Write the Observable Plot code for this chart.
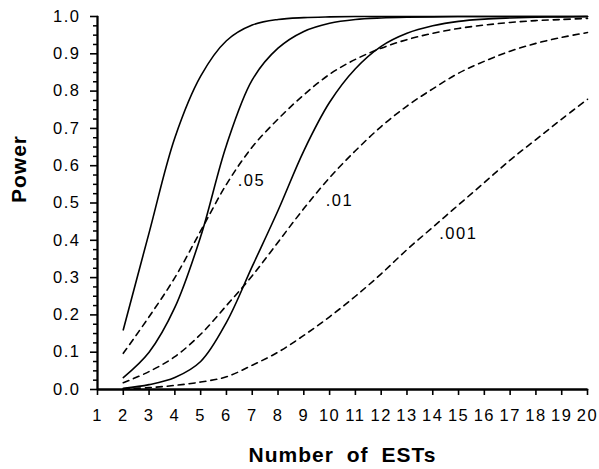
<!DOCTYPE html>
<html>
<head>
<meta charset="utf-8">
<script src="https://cdn.jsdelivr.net/npm/d3@7"></script>
<script src="https://cdn.jsdelivr.net/npm/@observablehq/plot@0.6"></script>
<style>
  html, body { margin: 0; padding: 0; background: #fff; }
  #chart svg { display: block; }
</style>
</head>
<body>
<div id="chart"></div>
<script>
// Number of ESTs (x values shared by all curves)
const nEST = [2, 3, 4, 5, 6, 7, 8, 9, 10, 11, 12, 13, 14, 15, 16, 17, 18, 19, 20];

// Power curves, solid family, at significance levels .05 / .01 / .001
const solidP05  = [0.16, 0.42, 0.675, 0.84, 0.935, 0.977, 0.992, 0.997, 0.999, 1.0, 1.0, 1.0, 1.0, 1.0, 1.0, 1.0, 1.0, 1.0, 1.0];
const solidP01  = [0.032, 0.10, 0.22, 0.41, 0.655, 0.83, 0.915, 0.96, 0.982, 0.992, 0.996, 0.998, 0.999, 1.0, 1.0, 1.0, 1.0, 1.0, 1.0];
const solidP001 = [0.003, 0.013, 0.032, 0.075, 0.18, 0.33, 0.48, 0.64, 0.77, 0.86, 0.92, 0.955, 0.975, 0.987, 0.993, 0.996, 0.998, 0.999, 1.0];

// Power curves, dashed family, at the same significance levels
const dashedP05  = [0.097, 0.195, 0.30, 0.425, 0.55, 0.65, 0.725, 0.79, 0.845, 0.885, 0.915, 0.938, 0.955, 0.968, 0.977, 0.984, 0.989, 0.992, 0.995];
const dashedP01  = [0.018, 0.048, 0.088, 0.148, 0.225, 0.305, 0.395, 0.485, 0.568, 0.64, 0.705, 0.76, 0.806, 0.848, 0.88, 0.907, 0.928, 0.944, 0.957];
const dashedP001 = [0.002, 0.005, 0.011, 0.02, 0.034, 0.065, 0.10, 0.145, 0.195, 0.25, 0.31, 0.375, 0.435, 0.495, 0.555, 0.615, 0.67, 0.725, 0.778];

// Axis ticks
const xTicks = [1, 2, 3, 4, 5, 6, 7, 8, 9, 10, 11, 12, 13, 14, 15, 16, 17, 18, 19, 20];
const yTicks = [0, 0.1, 0.2, 0.3, 0.4, 0.5, 0.6, 0.7, 0.8, 0.9, 1.0];
const yMinorTicks = [0.025, 0.05, 0.075, 0.125, 0.15, 0.175, 0.225, 0.25, 0.275, 0.325, 0.35, 0.375,
                     0.425, 0.45, 0.475, 0.525, 0.55, 0.575, 0.625, 0.65, 0.675, 0.725, 0.75, 0.775,
                     0.825, 0.85, 0.875, 0.925, 0.95, 0.975];

// Significance-level annotations beside the dashed curves
const levelLabels = [
  {label: ".05",  n: 6.97,  power: 0.56},
  {label: ".01",  n: 10.38, power: 0.505},
  {label: ".001", n: 14.99, power: 0.418}
];

const series = [
  {key: "solid .05",   dashed: false, values: solidP05},
  {key: "solid .01",   dashed: false, values: solidP01},
  {key: "solid .001",  dashed: false, values: solidP001},
  {key: "dashed .05",  dashed: true,  values: dashedP05},
  {key: "dashed .01",  dashed: true,  values: dashedP01},
  {key: "dashed .001", dashed: true,  values: dashedP001}
];
const rows = series.flatMap(s => s.values.map((p, i) => ({n: nEST[i], power: p, key: s.key, dashed: s.dashed})));

// Axis lines as polylines along the tick extents
const xFirst = xTicks[0], xLast = xTicks[xTicks.length - 1];
const yFirst = yTicks[0], yLast = yTicks[yTicks.length - 1];
const axisLines = [
  {n: xFirst, power: yFirst, key: "y-axis"}, {n: xFirst, power: yLast, key: "y-axis"},
  {n: xFirst, power: yFirst, key: "x-axis"}, {n: xLast, power: yFirst, key: "x-axis"}
];

const font = "'Liberation Sans', Arial, Helvetica, sans-serif";
const ink = "#000";

const chart = Plot.plot({
  width: 599,
  height: 469,
  marginLeft: 97,
  marginRight: 12,
  marginTop: 16,
  marginBottom: 80,
  style: {fontFamily: font, fontSize: "16.5px", color: ink, background: "#fff"},
  x: {type: "linear", domain: [1, 20]},
  y: {type: "linear", domain: [0, 1]},
  marks: [
    Plot.line(rows.filter(d => !d.dashed), {x: "n", y: "power", z: "key", curve: "catmull-rom", stroke: ink, strokeWidth: 1.6}),
    Plot.line(rows.filter(d => d.dashed), {x: "n", y: "power", z: "key", curve: "catmull-rom", stroke: ink, strokeWidth: 1.6, strokeDasharray: "6,5"}),
    Plot.text(levelLabels, {x: "n", y: "power", text: "label", fontSize: 16.5, textAnchor: "middle", fill: ink}),
    Plot.text(["Number of ESTs"], {frameAnchor: "bottom", dy: 66, lineAnchor: "middle", fontSize: 21, fontWeight: "bold", fill: ink}),
    Plot.text(["Power"], {frameAnchor: "left", dx: -78, rotate: -90, lineAnchor: "middle", fontSize: 21, fontWeight: "bold", fill: ink}),
    Plot.axisY({ticks: yMinorTicks, tickSize: 4, tickFormat: () => "", label: null, stroke: ink, strokeWidth: 1.5}),
    Plot.axisY({ticks: yTicks, tickSize: 7, tickPadding: 10, tickFormat: d => d.toFixed(1), label: null, stroke: ink, fill: ink, strokeWidth: 1.6}),
    Plot.axisX({ticks: xTicks, tickSize: 6, tickPadding: 14, tickFormat: d => String(d), label: null, stroke: ink, fill: ink, strokeWidth: 1.6}),
    Plot.ruleX([xFirst], {stroke: ink, strokeWidth: 1.8}),
    Plot.ruleY([yFirst], {stroke: ink, strokeWidth: 1.8}),
    Plot.line(axisLines, {x: "n", y: "power", z: "key", stroke: ink, strokeWidth: 1.8})
  ]
});

// Type spacing: wide tracking on numbers, extra word gaps on the axis titles
chart.querySelectorAll("text").forEach(t => {
  const s = t.textContent;
  if (s === "Number of ESTs" || s === "Power") {
    t.setAttribute("letter-spacing", "1");
    t.setAttribute("word-spacing", "6");
  } else {
    t.setAttribute("letter-spacing", "1.5");
  }
});

document.getElementById("chart").appendChild(chart);
</script>
</body>
</html>
